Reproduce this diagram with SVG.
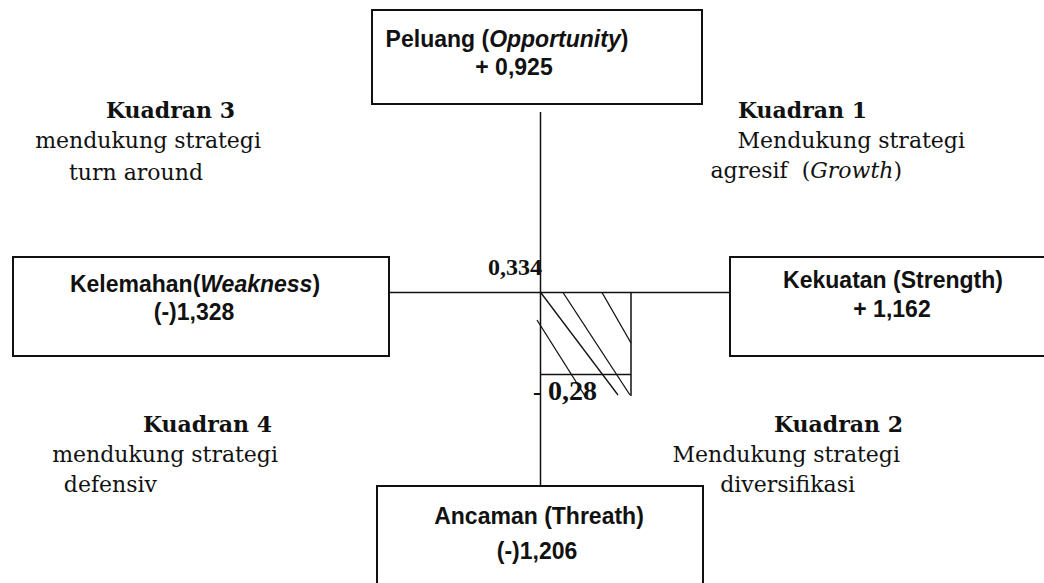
<svg xmlns="http://www.w3.org/2000/svg" width="1044" height="583" viewBox="0 0 1044 583">
<style>
.box{fill:#fff;stroke:#111;stroke-width:2}
.bt{font-family:"Liberation Sans",Arial,sans-serif;font-weight:bold;font-size:23px;fill:#111;text-anchor:middle}
.q{font-family:"DejaVu Serif","Liberation Serif",serif;font-size:22px;fill:#111;white-space:pre;text-anchor:end}
.qh{font-weight:bold}
.num{font-family:"Liberation Serif",serif;font-weight:bold;fill:#111}
.ax{stroke:#111;stroke-width:1.5;fill:none}
.h{stroke:#111;stroke-width:1.3;fill:none}
</style>
<rect width="1044" height="583" fill="#fff"/>
<g id="connectors">
<line class="ax" x1="540.5" y1="112" x2="540.5" y2="540"/>
<line class="ax" x1="389" y1="292.5" x2="730" y2="292.5"/>
<line class="ax" x1="631" y1="292.5" x2="631" y2="396"/>
<line class="ax" x1="540.5" y1="374.5" x2="631" y2="374.5"/>
<line class="h" x1="540.7" y1="292.5" x2="618" y2="395"/>
<line class="h" x1="563" y1="292.5" x2="630" y2="395"/>
<line class="h" x1="602" y1="292.5" x2="631" y2="343"/>
<line class="h" x1="537" y1="320" x2="585" y2="396"/>
</g>
<g id="peluang">
<rect class="box" x="372" y="10" width="330" height="94"/>
<text class="bt" x="507" y="47">Peluang (<tspan font-style="italic">Opportunity</tspan>)</text>
<text class="bt" x="514" y="75">+ 0,925</text>
</g>
<g id="kelemahan">
<rect class="box" x="13" y="257" width="376" height="99"/>
<text class="bt" x="195" y="292">Kelemahan(<tspan font-style="italic">Weakness</tspan>)</text>
<text class="bt" x="194" y="320">(-)1,328</text>
</g>
<g id="kekuatan">
<rect class="box" x="730" y="257" width="330" height="99"/>
<text class="bt" x="893" y="288">Kekuatan (Strength)</text>
<text class="bt" x="892" y="317">+ 1,162</text>
</g>
<g id="ancaman">
<rect class="box" x="377" y="486" width="326" height="120"/>
<text class="bt" x="539" y="524">Ancaman (Threath)</text>
<text class="bt" x="537" y="559">(-)1,206</text>
</g>
<g id="labels">
<text class="num" x="542" y="275" font-size="24" text-anchor="end">0,334</text>
<text class="num" x="533" y="400" font-size="24">-</text>
<text class="num" x="548" y="400" font-size="28">0,28</text>
</g>
<g id="kuadran3">
<text class="q qh" x="235" y="118">Kuadran 3</text>
<text class="q" x="261" y="148">mendukung strategi</text>
<text class="q" x="203" y="180">turn around</text>
</g>
<g id="kuadran1">
<text class="q qh" x="867" y="118">Kuadran 1</text>
<text class="q" x="965" y="148">Mendukung strategi</text>
<text class="q" x="902" y="178">agresif  (<tspan font-style="italic">Growth</tspan>)</text>
</g>
<g id="kuadran4">
<text class="q qh" x="272" y="432">Kuadran 4</text>
<text class="q" x="278" y="462">mendukung strategi</text>
<text class="q" x="157" y="492">defensiv</text>
</g>
<g id="kuadran2">
<text class="q qh" x="903" y="432">Kuadran 2</text>
<text class="q" x="900" y="462">Mendukung strategi</text>
<text class="q" x="855" y="492">diversifikasi</text>
</g>
</svg>
